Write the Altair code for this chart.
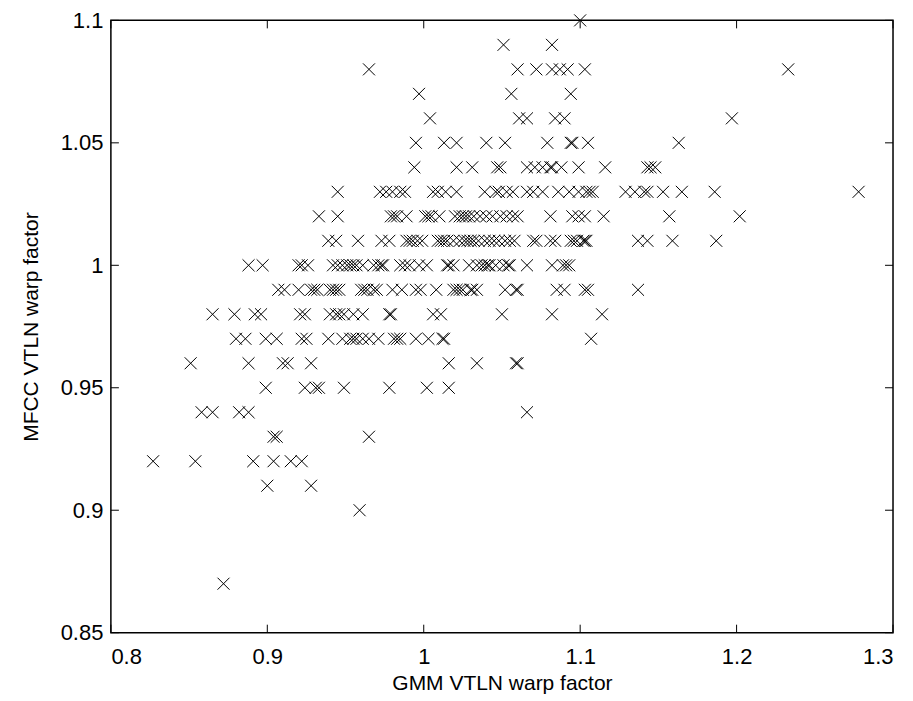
import altair as alt
import pandas as pd

# MFCC warp factor rows (y) and the GMM warp factors (x) found on each row
y_levels = [1.10, 1.09, 1.08, 1.07, 1.06, 1.05, 1.04, 1.03, 1.02, 1.01, 1.00,
            0.99, 0.98, 0.97, 0.96, 0.95, 0.94, 0.93, 0.92, 0.91, 0.90, 0.87]

x_110 = [1.100]
x_109 = [1.051, 1.082]
x_108 = [0.965, 1.060, 1.072, 1.082, 1.087, 1.092, 1.103, 1.233]
x_107 = [0.997, 1.056, 1.094]
x_106 = [1.004, 1.061, 1.066, 1.084, 1.090, 1.197]
x_105 = [0.995, 1.013, 1.021, 1.040, 1.052, 1.079, 1.094, 1.095, 1.105, 1.163]
x_104 = [0.994, 1.021, 1.031, 1.047, 1.049, 1.066, 1.071, 1.076, 1.081, 1.082,
         1.088, 1.099, 1.116, 1.143, 1.145, 1.148]
x_103 = [0.945, 0.972, 0.976, 0.980, 0.985, 0.988, 1.006, 1.009, 1.014, 1.021,
         1.039, 1.046, 1.048, 1.053, 1.057, 1.066, 1.070, 1.076, 1.086, 1.093,
         1.099, 1.104, 1.106, 1.108, 1.129, 1.135, 1.141, 1.143, 1.153, 1.165,
         1.186, 1.278]
x_102 = [0.933, 0.945, 0.979, 0.981, 0.983, 0.989, 1.001, 1.003, 1.005, 1.010,
         1.020, 1.023, 1.025, 1.027, 1.029, 1.032, 1.036, 1.040, 1.044, 1.049,
         1.053, 1.057, 1.060, 1.081, 1.095, 1.099, 1.103, 1.115, 1.157, 1.202]
x_101 = [0.939, 0.944, 0.958, 0.973, 0.978, 0.989, 0.991, 0.993, 0.996, 0.999,
         1.009, 1.011, 1.013, 1.015, 1.019, 1.023, 1.026, 1.028, 1.030, 1.032,
         1.035, 1.039, 1.042, 1.045, 1.048, 1.052, 1.055, 1.058, 1.070, 1.072,
         1.081, 1.084, 1.094, 1.096, 1.098, 1.102, 1.103, 1.104, 1.137, 1.143,
         1.159, 1.187]
x_100 = [0.888, 0.897, 0.920, 0.922, 0.926, 0.942, 0.945, 0.948, 0.951, 0.953,
         0.955, 0.957, 0.961, 0.968, 0.971, 0.973, 0.974, 0.985, 0.988, 0.991,
         0.997, 1.002, 1.015, 1.016, 1.019, 1.029, 1.034, 1.037, 1.039, 1.041,
         1.042, 1.046, 1.051, 1.054, 1.055, 1.066, 1.082, 1.089, 1.091, 1.093]
x_099 = [0.907, 0.911, 0.920, 0.928, 0.930, 0.932, 0.940, 0.942, 0.944, 0.946,
         0.960, 0.962, 0.964, 0.968, 0.970, 0.980, 0.986, 0.995, 0.998, 1.008,
         1.019, 1.021, 1.023, 1.025, 1.030, 1.031, 1.034, 1.052, 1.059, 1.060,
         1.085, 1.090, 1.103, 1.105, 1.137]
x_098 = [0.865, 0.879, 0.892, 0.896, 0.921, 0.924, 0.940, 0.944, 0.946, 0.949,
         0.955, 0.961, 0.978, 0.979, 1.006, 1.011, 1.050, 1.082, 1.114]
x_097 = [0.880, 0.886, 0.899, 0.906, 0.922, 0.925, 0.939, 0.948, 0.953, 0.955,
         0.957, 0.961, 0.965, 0.971, 0.981, 0.983, 0.985, 0.995, 1.003, 1.012,
         1.013, 1.107]
x_096 = [0.851, 0.888, 0.910, 0.913, 0.928, 1.016, 1.034, 1.059, 1.060]
x_095 = [0.899, 0.924, 0.931, 0.933, 0.949, 0.978, 1.002, 1.016]
x_094 = [0.858, 0.865, 0.882, 0.888, 1.066]
x_093 = [0.904, 0.906, 0.965]
x_092 = [0.827, 0.854, 0.891, 0.904, 0.915, 0.922]
x_091 = [0.900, 0.928]
x_090 = [0.959]
x_087 = [0.872]

x_rows = [x_110, x_109, x_108, x_107, x_106, x_105, x_104, x_103, x_102, x_101,
          x_100, x_099, x_098, x_097, x_096, x_095, x_094, x_093, x_092, x_091,
          x_090, x_087]

x_ticks = [0.8, 0.9, 1.0, 1.1, 1.2, 1.3]
y_ticks = [0.85, 0.9, 0.95, 1.0, 1.05, 1.1]

rows = []
for yv, xs in zip(y_levels, x_rows):
    for xv in xs:
        rows.append({"x": xv, "y": yv})
df = pd.DataFrame(rows)
df_xt = pd.DataFrame({"x": x_ticks})
df_yt = pd.DataFrame({"y": y_ticks})

W, H = 783, 613
FONT = "Liberation Sans"
TL = 8

x_enc = alt.X("x:Q",
              scale=alt.Scale(domain=[0.8, 1.3], nice=False, zero=False),
              axis=alt.Axis(values=x_ticks, format="~g", domain=False, ticks=False,
                            grid=False, labelFontSize=22, labelFont=FONT,
                            labelColor="black", labelPadding=14,
                            title="GMM VTLN warp factor", titleFont=FONT,
                            titleFontSize=21, titleFontWeight="normal",
                            titleColor="black", titlePadding=5))
y_enc = alt.Y("y:Q",
              scale=alt.Scale(domain=[0.85, 1.1], nice=False, zero=False),
              axis=alt.Axis(values=y_ticks, format="~g", domain=False, ticks=False,
                            grid=False, labelFontSize=22, labelFont=FONT,
                            labelColor="black", labelPadding=8,
                            title="MFCC VTLN warp factor", titleFont=FONT,
                            titleFontSize=21, titleFontWeight="normal",
                            titleColor="black", titlePadding=19))

points = alt.Chart(df).mark_point(
    shape="M-1,-1L1,1M-1,1L1,-1", filled=False, size=144,
    color="black", strokeWidth=1, opacity=1
).encode(x=x_enc, y=y_enc)

bottom_ticks = alt.Chart(df_xt).mark_rule(color="black", strokeWidth=1).encode(
    x=x_enc, y=alt.value(H), y2=alt.value(H - TL))
top_ticks = alt.Chart(df_xt).mark_rule(color="black", strokeWidth=1).encode(
    x=x_enc, y=alt.value(0), y2=alt.value(TL))
left_ticks = alt.Chart(df_yt).mark_rule(color="black", strokeWidth=1).encode(
    y=y_enc, x=alt.value(0), x2=alt.value(TL))
right_ticks = alt.Chart(df_yt).mark_rule(color="black", strokeWidth=1).encode(
    y=y_enc, x=alt.value(W), x2=alt.value(W - TL))

chart = alt.layer(points, bottom_ticks, top_ticks, left_ticks, right_ticks).properties(
    width=W, height=H,
    autosize=alt.AutoSizeParams(type="none"),
    padding={"left": 103, "top": 12, "right": 12, "bottom": 68},
    background="white",
).configure_view(stroke="black", strokeWidth=1.5)

chart.save("out.html", embed_options={"renderer": "svg", "actions": False})
